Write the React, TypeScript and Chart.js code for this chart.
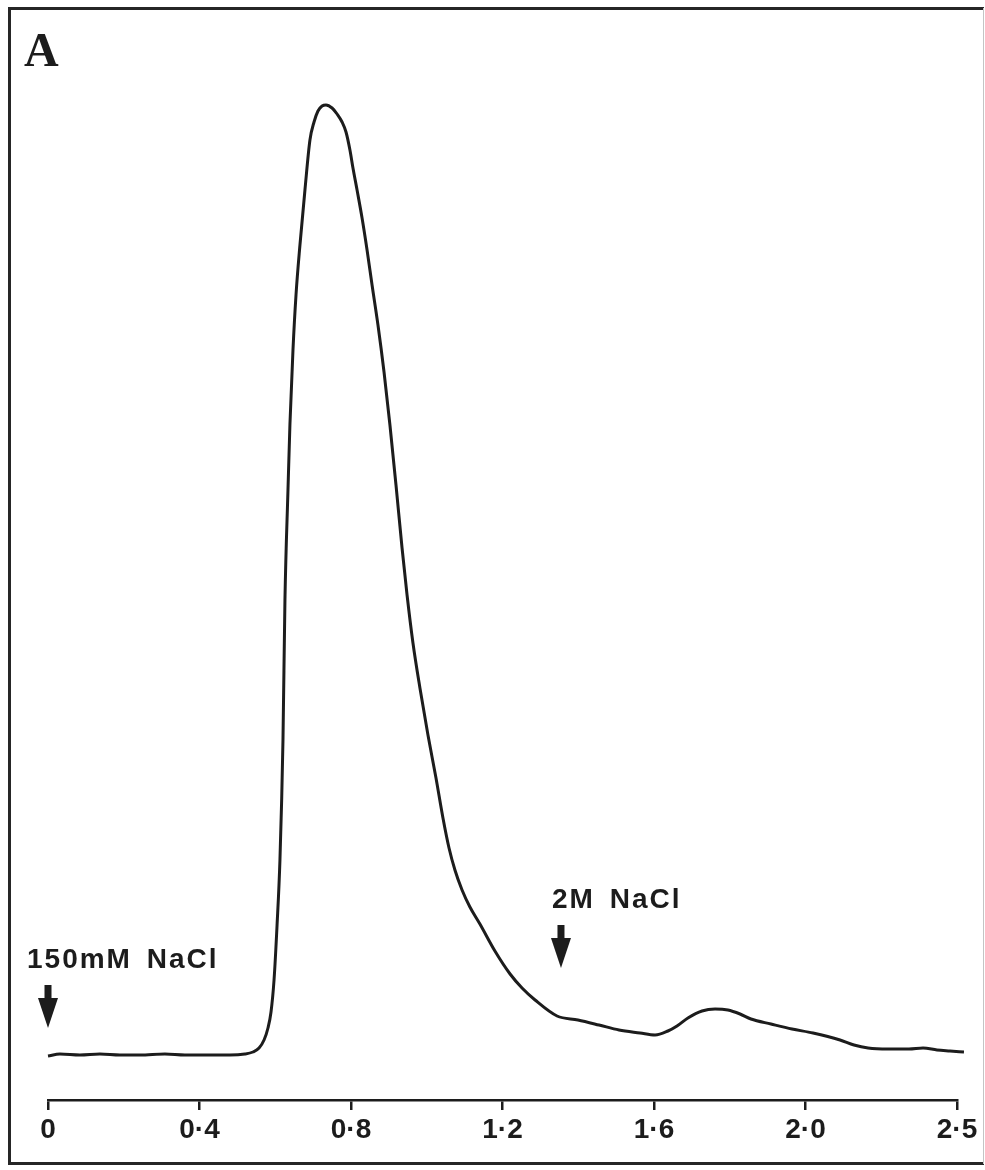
import { useEffect, useRef } from "react";
import { Chart, registerables } from "chart.js";

Chart.register(...registerables);

// Fraction axis: evenly spaced ticks (in tick-interval units) and their printed labels
const tickPositions = [0, 1, 2, 3, 4, 5, 6];
const tickLabels = ["0", "0·4", "0·8", "1·2", "1·6", "2·0", "2·5"];

// Elution trace: position along the fraction axis (tick-interval units)
const elution = [
  0.0, 0.079, 0.211, 0.343, 0.475, 0.607, 0.772, 0.904, 1.069, 1.201,
  1.3, 1.353, 1.393, 1.426, 1.452, 1.472, 1.492, 1.512, 1.531, 1.551,
  1.564, 1.584, 1.597, 1.617, 1.637, 1.663, 1.696, 1.729, 1.756, 1.782,
  1.809, 1.835, 1.875, 1.908, 1.941, 1.967, 1.993, 2.013, 2.04, 2.073,
  2.106, 2.139, 2.178, 2.218, 2.257, 2.297, 2.337, 2.37, 2.409, 2.455,
  2.508, 2.561, 2.607, 2.647, 2.686, 2.733, 2.785, 2.851, 2.95, 3.05,
  3.129, 3.215, 3.36, 3.498, 3.637, 3.769, 3.908, 4.007, 4.092, 4.152,
  4.224, 4.317, 4.403, 4.488, 4.568, 4.64, 4.772, 4.911, 5.05, 5.228,
  5.32, 5.413, 5.545, 5.683, 5.776, 5.868, 5.954, 6.046,
];

// Detector response (arbitrary absorbance units)
const absorbance = [
  0.044, 0.046, 0.045, 0.046, 0.045, 0.045, 0.046, 0.045, 0.045, 0.045,
  0.046, 0.048, 0.052, 0.06, 0.072, 0.088, 0.12, 0.175, 0.24, 0.36,
  0.5, 0.61, 0.676, 0.75, 0.805, 0.855, 0.91, 0.96, 0.978, 0.989,
  0.994, 0.995, 0.992, 0.986, 0.978, 0.968, 0.95, 0.932, 0.91, 0.882,
  0.85, 0.815, 0.775, 0.728, 0.675, 0.615, 0.552, 0.505, 0.457, 0.412,
  0.365, 0.322, 0.282, 0.252, 0.23, 0.21, 0.193, 0.176, 0.149, 0.126,
  0.112, 0.1, 0.084, 0.08, 0.075, 0.07, 0.067, 0.065, 0.069, 0.074,
  0.082, 0.089, 0.091, 0.09, 0.086, 0.081, 0.076, 0.071, 0.067, 0.06,
  0.055, 0.052, 0.051, 0.051, 0.052, 0.05, 0.049, 0.048,
];

// Salt step annotations
const stepLabels = ["150mM NaCl", "2M NaCl"];
const stepPositions = [0, 3.386];
const stepArrowTips = [0.072, 0.132];

const INK = "#1c1c1c";
const SANS = '"Liberation Sans", Arial, sans-serif';

const notesPlugin = {
  id: "frameAndNotes",
  afterDraw(chart: any) {
    const { ctx } = chart;
    const xs = chart.scales.x;
    const ys = chart.scales.y;
    ctx.save();

    // outer frame
    ctx.strokeStyle = "#262626";
    ctx.lineWidth = 3;
    ctx.beginPath();
    ctx.moveTo(984, 8.5);
    ctx.lineTo(9.5, 8.5);
    ctx.lineTo(9.5, 1163.5);
    ctx.lineTo(984, 1163.5);
    ctx.stroke();
    ctx.strokeStyle = "#c4c4c4";
    ctx.lineWidth = 1;
    ctx.beginPath();
    ctx.moveTo(983.5, 8);
    ctx.lineTo(983.5, 1164);
    ctx.stroke();

    // panel letter
    ctx.fillStyle = INK;
    ctx.textBaseline = "alphabetic";
    ctx.textAlign = "left";
    ctx.font = 'bold 48px "Liberation Serif", "Times New Roman", serif';
    ctx.fillText("A", 24, 66);

    // salt steps: label + down arrow
    ctx.font = `bold 28px ${SANS}`;
    (ctx as any).letterSpacing = "2px";
    (ctx as any).wordSpacing = "5px";
    const textDx = [-21, -9];
    stepLabels.forEach((label, i) => {
      const x = xs.getPixelForValue(stepPositions[i]);
      const tip = ys.getPixelForValue(stepArrowTips[i]);
      ctx.fillText(label, x + textDx[i], tip - 60);
      ctx.fillRect(x - 3.5, tip - 43, 7, 14);
      ctx.beginPath();
      ctx.moveTo(x - 10, tip - 30);
      ctx.lineTo(x + 10, tip - 30);
      ctx.lineTo(x, tip);
      ctx.closePath();
      ctx.fill();
    });
    ctx.restore();
  },
};

export default function App() {
  const canvasRef = useRef<HTMLCanvasElement | null>(null);

  useEffect(() => {
    const canvas = canvasRef.current;
    if (!canvas) return;
    const chart = new Chart(canvas, {
      type: "line",
      data: {
        datasets: [
          {
            data: elution.map((x, i) => ({ x, y: absorbance[i] })),
            borderColor: INK,
            borderWidth: 3,
            pointRadius: 0,
            fill: false,
            cubicInterpolationMode: "monotone",
            clip: false as any,
          },
        ],
      },
      options: {
        animation: false,
        responsive: false,
        devicePixelRatio: 1,
        layout: { padding: { left: 48, right: 28, top: 100, bottom: 25 } },
        plugins: {
          legend: { display: false },
          tooltip: { enabled: false },
          title: { display: false },
        },
        scales: {
          x: {
            type: "linear",
            position: "bottom",
            min: 0,
            max: 6,
            afterBuildTicks: (scale: any) => {
              scale.ticks = tickPositions.map((value) => ({ value }));
            },
            afterFit: (scale: any) => {
              scale.height = 45;
            },
            ticks: {
              autoSkip: false,
              maxRotation: 0,
              padding: 3,
              color: INK,
              font: { family: SANS, size: 28, weight: "bold" },
              callback: (_v: any, i: number) => tickLabels[i],
            },
            grid: {
              drawOnChartArea: false,
              drawTicks: true,
              tickLength: 10,
              color: INK,
              lineWidth: 2.5,
            },
            border: { display: true, color: INK, width: 2.5 },
          },
          y: {
            type: "linear",
            display: false,
            min: 0,
            max: 1,
          },
        },
      },
      plugins: [notesPlugin],
    });
    return () => chart.destroy();
  }, []);

  return (
    <div
      style={{
        position: "absolute",
        left: 0,
        top: 0,
        width: 985,
        height: 1170,
        background: "#fff",
      }}
    >
      <canvas ref={canvasRef} width={985} height={1170} />
    </div>
  );
}
